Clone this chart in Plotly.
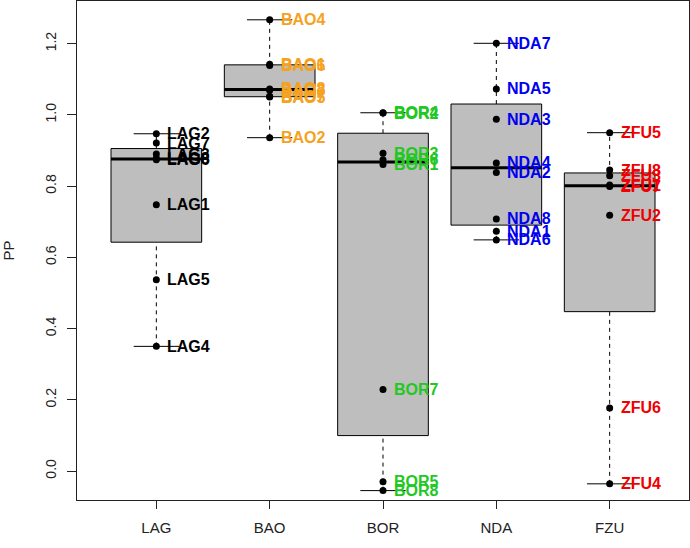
import math
import plotly.graph_objects as go

# ---- data ----
groups = ["LAG", "BAO", "BOR", "NDA", "FZU"]
lag_names = ["LAG1", "LAG2", "LAG3", "LAG4", "LAG5", "LAG6", "LAG7", "LAG8"]
lag_pp = [0.748, 0.947, 0.890, 0.350, 0.537, 0.874, 0.921, 0.878]
bao_names = ["BAO2", "BAO3", "BAO4", "BAO5", "BAO6", "BAO7", "BAO8", "BAO1"]
bao_pp = [0.936, 1.069, 1.267, 1.050, 1.139, 1.052, 1.073, 1.142]
bor_names = ["BOR1", "BOR2", "BOR3", "BOR4", "BOR5", "BOR6", "BOR7", "BOR8"]
bor_pp = [0.861, 1.005, 0.892, 1.006, -0.030, 0.874, 0.229, -0.055]
nda_names = ["NDA1", "NDA2", "NDA3", "NDA4", "NDA5", "NDA6", "NDA7", "NDA8"]
nda_pp = [0.673, 0.838, 0.988, 0.865, 1.073, 0.649, 1.201, 0.708]
zfu_names = ["ZFU1", "ZFU2", "ZFU3", "ZFU4", "ZFU5", "ZFU6", "ZFU7", "ZFU8"]
zfu_pp = [0.803, 0.718, 0.829, -0.036, 0.950, 0.177, 0.799, 0.845]

label_colors = ["#000000", "#F5A21E", "#22C822", "#0000F0", "#F00000"]
y_ticks = [0.0, 0.2, 0.4, 0.6, 0.8, 1.0, 1.2]

values = [lag_pp, bao_pp, bor_pp, nda_pp, zfu_pp]
names = [lag_names, bao_names, bor_names, nda_names, zfu_names]


def fivenum(v):
    s = sorted(v)
    n = len(s)
    n4 = math.floor((n + 3) / 2) / 2
    d = [1, n4, (n + 1) / 2, n + 1 - n4, n]
    return [0.5 * (s[math.floor(k) - 1] + s[math.ceil(k) - 1]) for k in d]


FONT = "Arial, Liberation Sans, sans-serif"
fig = go.Figure()
shapes = []
annotations = []
half_box = 0.4
half_cap = 0.2

for i, (vals, g) in enumerate(zip(values, groups)):
    pos = i + 1
    _, q1, med, q3, _ = fivenum(vals)
    iqr = q3 - q1
    lo = min(v for v in vals if v >= q1 - 1.5 * iqr)
    hi = max(v for v in vals if v <= q3 + 1.5 * iqr)
    shapes.append(dict(type="line", x0=pos, x1=pos, y0=q3, y1=hi,
                       line=dict(color="black", width=1, dash="4px,4px"), layer="below"))
    shapes.append(dict(type="line", x0=pos, x1=pos, y0=lo, y1=q1,
                       line=dict(color="black", width=1, dash="4px,4px"), layer="below"))
    shapes.append(dict(type="line", x0=pos - half_cap, x1=pos + half_cap, y0=hi, y1=hi,
                       line=dict(color="black", width=1), layer="below"))
    shapes.append(dict(type="line", x0=pos - half_cap, x1=pos + half_cap, y0=lo, y1=lo,
                       line=dict(color="black", width=1), layer="below"))
    shapes.append(dict(type="rect", x0=pos - half_box, x1=pos + half_box, y0=q1, y1=q3,
                       fillcolor="#BEBEBE", line=dict(color="black", width=1), layer="below"))
    shapes.append(dict(type="line", x0=pos - half_box, x1=pos + half_box, y0=med, y1=med,
                       line=dict(color="black", width=3), layer="below"))

for i, (vals, nm, col) in enumerate(zip(values, names, label_colors)):
    pos = i + 1
    fig.add_trace(go.Scatter(
        x=[pos] * len(vals), y=vals, mode="markers",
        marker=dict(color="black", size=7),
        showlegend=False, hoverinfo="skip"))
    for v, t in zip(vals, nm):
        annotations.append(dict(
            x=pos, y=v, text=t, showarrow=False, xanchor="left", yanchor="middle",
            xshift=9, font=dict(family=FONT, size=16, color=col, weight="bold")))

fig.update_layout(
    width=690, height=548,
    margin=dict(l=77, r=1, t=1, b=48),
    paper_bgcolor="white", plot_bgcolor="white",
    shapes=shapes, annotations=annotations,
    font=dict(family=FONT, color="#222222"),
    xaxis=dict(range=[0.3, 5.7], tickvals=[1, 2, 3, 4, 5], ticktext=groups,
               automargin=False,
               showgrid=False, zeroline=False, showline=True, mirror=True,
               linecolor="#222222", linewidth=1, ticks="outside", ticklen=8,
               tickcolor="#222222", ticklabelstandoff=6,
               tickfont=dict(size=15, color="#222222")),
    yaxis=dict(range=[-0.0814, 1.3198], tickvals=y_ticks,
               ticktext=[f"{t:.1f}" for t in y_ticks],
               automargin=False,
               showgrid=False, zeroline=False, showline=True, mirror=True,
               linecolor="#222222", linewidth=1, ticks="outside", ticklen=9,
               tickcolor="#222222", tickangle=-90, ticklabelstandoff=5,
               tickfont=dict(size=14, color="#222222"),
               title=dict(text="PP", font=dict(size=15, color="#222222"), standoff=34)),
)

fig.write_html("out.html", config={"displayModeBar": False},
               post_script="document.body.style.margin='0';")
